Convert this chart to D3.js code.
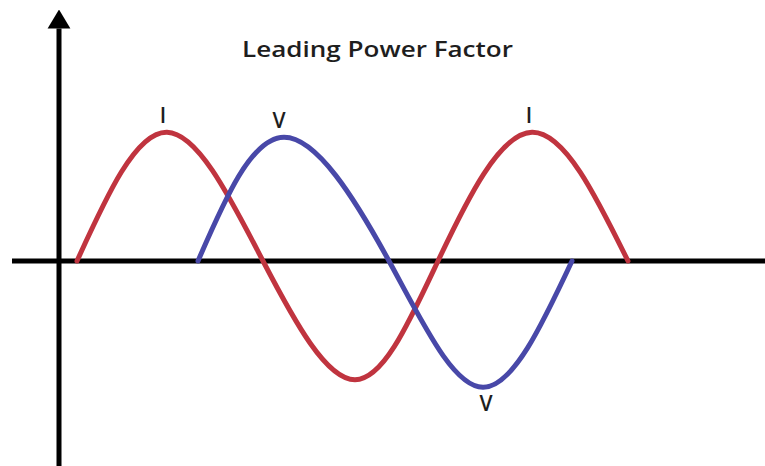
<!DOCTYPE html>
<meta charset="utf-8">
<style>
body { margin: 0; background: #fff; }
text { font-family: "Open Sans", "Noto Sans", sans-serif; fill: #1e1e1e; }
</style>
<svg width="765" height="466"></svg>
<script src="https://cdn.jsdelivr.net/npm/d3@7"></script>
<script>

// time offsets from the vertical axis, and amplitude
var tCurrent = [18, 108, 204, 296, 379, 473, 569];
var current  = [0, 1.03, 0, -0.95, 0, 1.03, 0];

var tVoltage = [139, 225, 330, 424, 513];
var voltage  = [0, 0.99, 0, -1.01, 0];

// peak labels: [time, value, text]
var peakLabels = [
  [104, 1.03, "I"],
  [220, 0.99, "V"],
  [470, 1.03, "I"]
];
var troughLabels = [
  [427, -1.01, "V"]
];

var title = "Leading Power Factor";

var svg = d3.select("svg"),
    width = +svg.attr("width"),
    height = +svg.attr("height");

var x = d3.scaleLinear().domain([-47, 706]).range([12, 765]);
var y = d3.scaleLinear().domain([-1, 1]).range([386, 136]);

svg.append("defs").append("marker")
    .attr("id", "arrowhead")
    .attr("viewBox", "0 -6 10 12")
    .attr("refX", 0)
    .attr("refY", 0)
    .attr("orient", "auto")
    .attr("markerWidth", 19)
    .attr("markerHeight", 27)
    .attr("markerUnits", "userSpaceOnUse")
    .append("path")
    .attr("d", "M0,-6L10,0L0,6Z")
    .attr("fill", "#000");

// horizontal axis
svg.append("line")
    .attr("x1", x.range()[0]).attr("x2", x.range()[1])
    .attr("y1", y(0)).attr("y2", y(0))
    .style("stroke", "#000")
    .style("stroke-width", 5);

// vertical axis with arrow
svg.append("line")
    .attr("x1", x(0)).attr("x2", x(0))
    .attr("y1", height).attr("y2", y(1.86))
    .style("stroke", "#000")
    .style("stroke-width", 5)
    .attr("marker-end", "url(#arrowhead)");

var line = d3.line()
    .x(function(d) { return x(d[0]); })
    .y(function(d) { return y(d[1]); })
    .curve(d3.curveNatural);

svg.append("path")
    .datum(d3.zip(tCurrent, current))
    .attr("d", line)
    .style("fill", "none")
    .style("stroke", "#c0343f")
    .style("stroke-width", 5)
    .style("stroke-linecap", "round");

svg.append("path")
    .datum(d3.zip(tVoltage, voltage))
    .attr("d", line)
    .style("fill", "none")
    .style("stroke", "#4848a8")
    .style("stroke-width", 5)
    .style("stroke-linecap", "round");

svg.selectAll(".peak")
    .data(peakLabels)
    .enter()
    .append("text")
    .attr("class", "peak")
    .attr("x", function(d) { return x(d[0]); })
    .attr("y", function(d) { return y(d[1]) - 9; })
    .attr("text-anchor", "middle")
    .style("font-size", "21px")
    .style("font-weight", 600)
    .text(function(d) { return d[2]; });

svg.selectAll(".trough")
    .data(troughLabels)
    .enter()
    .append("text")
    .attr("class", "trough")
    .attr("x", function(d) { return x(d[0]); })
    .attr("y", function(d) { return y(d[1]) + 24; })
    .attr("text-anchor", "middle")
    .style("font-size", "21px")
    .style("font-weight", 600)
    .text(function(d) { return d[2]; });

svg.append("text")
    .attr("x", 242)
    .attr("y", 57)
    .attr("textLength", 271)
    .attr("lengthAdjust", "spacingAndGlyphs")
    .style("font-size", "21px")
    .style("font-weight", 600)
    .text(title);

</script>
